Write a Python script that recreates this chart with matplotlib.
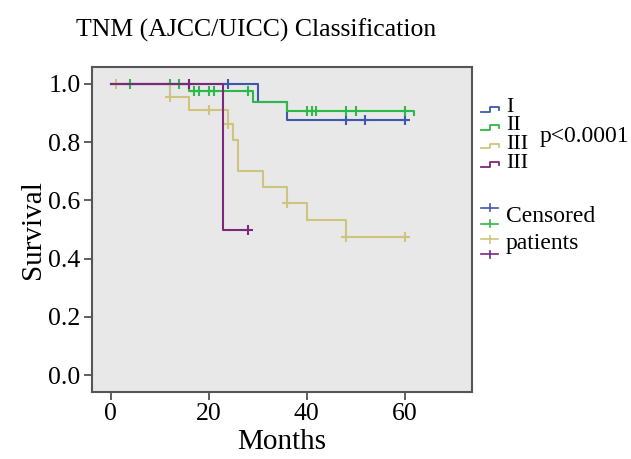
import numpy as np
import matplotlib.pyplot as plt
from matplotlib.lines import Line2D

# Kaplan-Meier step data
groups = ['I', 'II', 'III', 'III']
colors = ['#3E58AC', '#2EB848', '#CFC47C', '#7C287D']

times_i = [0, 30, 36, 60]
surv_i = [1.0, 0.939, 0.876, 0.876]
cens_i = [24, 48, 52, 60]

times_ii = [0, 16, 29, 36, 62]
surv_ii = [1.0, 0.974, 0.939, 0.908, 0.893]
cens_ii = [4, 12, 14, 17, 18, 20, 21, 28, 40, 41, 42, 48, 50, 60]

times_iii = [0, 12, 16, 24, 25, 26, 31, 36, 40, 48, 60]
surv_iii = [1.0, 0.956, 0.911, 0.863, 0.808, 0.701, 0.647, 0.592, 0.533, 0.474, 0.474]
cens_iii = [1, 12, 20, 24, 36, 48, 60]

times_iv = [0, 23, 28]
surv_iv = [1.0, 0.5, 0.5]
cens_iv = [16, 28]

series = [(times_i, surv_i, cens_i), (times_ii, surv_ii, cens_ii),
          (times_iii, surv_iii, cens_iii), (times_iv, surv_iv, cens_iv)]

plt.rcParams['font.family'] = ['Liberation Serif', 'DejaVu Serif']

fig = plt.figure(figsize=(6.31, 4.59), dpi=100)
ax = fig.add_axes([0.1453, 0.146, 0.6022, 0.708])
ax.set_facecolor('#e8e8e8')

for (t, s, c), col in zip(series, colors):
    ax.step(t, s, where='post', color=col, lw=1.5)
    t = np.array(t)
    s = np.array(s)
    idx = np.searchsorted(t, c, side='right') - 1
    ax.plot(c, s[idx], ls='none', marker='+', ms=7, mew=1.5, color=col)

ax.set_xlim(-3.9, 73.7)
ax.set_ylim(-0.058, 1.058)
ax.set_xticks([0, 20, 40, 60])
ax.set_yticks([0.0, 0.2, 0.4, 0.6, 0.8, 1.0])
ax.set_yticklabels(['0.0', '0.2', '0.4', '0.6', '0.8', '1.0'])
ax.tick_params(direction='out', length=6, width=1.2, color='#444444',
               labelsize=18.5, pad=2)
for sp in ax.spines.values():
    sp.set_color('#555555')
    sp.set_linewidth(1.5)
ax.set_xlabel('Months', fontsize=21, labelpad=3)
ax.set_ylabel('Survival', fontsize=21, labelpad=2)

fig.text(256 / 631, 1 - 30 / 459, 'TNM (AJCC/UICC) Classification',
         fontsize=18.5, ha='center', va='center')

# legend drawn in pixel coordinates
ov = fig.add_axes([0, 0, 1, 1], facecolor='none')
ov.set_xlim(0, 631)
ov.set_ylim(459, 0)
ov.axis('off')

step_y = [110, 128, 146.5, 165]
for y, col, name in zip(step_y, colors, groups):
    ov.add_line(Line2D([481, 490, 490, 499, 499], [y + 1.5, y + 1.5, y - 3, y - 3, y],
                       color=col, lw=1.3))
    ov.text(506, y - 2, name, fontsize=16, ha='left', va='center')
ov.text(540, 136.7, 'p<0.0001', fontsize=17, ha='left', va='center')

plus_y = [207.5, 223.5, 239.3, 254]
for y, col in zip(plus_y, colors):
    ov.add_line(Line2D([481, 498], [y, y], color=col, lw=1.2))
    ov.add_line(Line2D([489.5, 489.5], [y - 3.5, y + 3.5], color=col, lw=1.2))
ov.text(506, 216.7, 'Censored', fontsize=17, ha='left', va='center')
ov.text(506, 244, 'patients', fontsize=17, ha='left', va='center')

fig.savefig('out.png', dpi=100)
